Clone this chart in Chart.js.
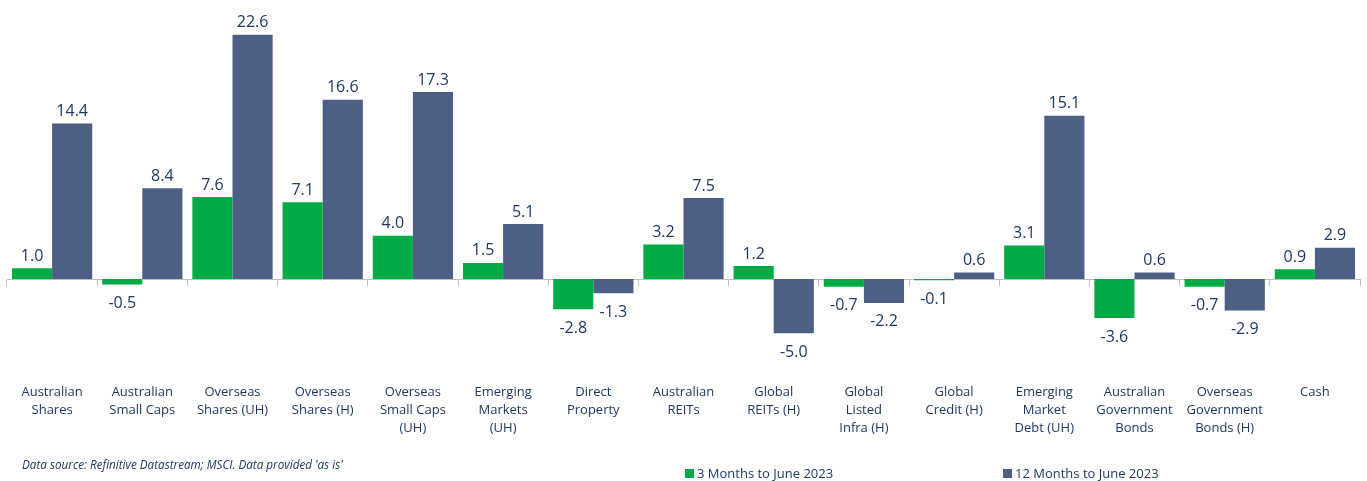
<!DOCTYPE html>
<html>
<head>
<meta charset="utf-8">
<script src="https://cdn.jsdelivr.net/npm/chart.js@4.4.1/dist/chart.umd.min.js"></script>
<style>
  html, body { margin: 0; padding: 0; background: #ffffff; }
  #wrap { position: relative; width: 1367px; height: 481px; overflow: hidden; }
  #c { position: absolute; left: 0; top: 0; }
  .note { position: absolute; left: 22px; top: 456px; font-family: "Open Sans", sans-serif; font-style: italic; font-size: 11.7px; color: #1F3864; white-space: nowrap; }
  .leg { position: absolute; top: 464px; font-family: "Open Sans", sans-serif; font-size: 13px; color: #1F3864; white-space: nowrap; line-height: 18px; }
  .leg span.box { display: inline-block; width: 9px; height: 9px; margin-right: 3px; vertical-align: 0px; }
</style>
</head>
<body>
<div id="wrap">
  <canvas id="c" width="1367" height="481"></canvas>
  <div class="note">Data source: Refinitive Datastream; MSCI. Data provided 'as is'</div>
  <div class="leg" style="left:685px"><span class="box" style="background:#00AA45"></span>3 Months to June 2023</div>
  <div class="leg" style="left:1003px"><span class="box" style="background:#4E5F86"></span>12 Months to June 2023</div>
</div>
<script>
const categories = [
  ["Australian", "Shares"],
  ["Australian", "Small Caps"],
  ["Overseas", "Shares (UH)"],
  ["Overseas", "Shares (H)"],
  ["Overseas", "Small Caps", "(UH)"],
  ["Emerging", "Markets", "(UH)"],
  ["Direct", "Property"],
  ["Australian", "REITs"],
  ["Global", "REITs (H)"],
  ["Global", "Listed", "Infra (H)"],
  ["Global", "Credit (H)"],
  ["Emerging", "Market", "Debt (UH)"],
  ["Australian", "Government", "Bonds"],
  ["Overseas", "Government", "Bonds (H)"],
  ["Cash"]
];
const seriesNames = ["3 Months to June 2023", "12 Months to June 2023"];
const threeMonths = [1.0, -0.5, 7.6, 7.1, 4.0, 1.5, -2.8, 3.2, 1.2, -0.7, -0.1, 3.1, -3.6, -0.7, 0.9];
const twelveMonths = [14.4, 8.4, 22.6, 16.6, 17.3, 5.1, -1.3, 7.5, -5.0, -2.2, 0.6, 15.1, 0.6, -2.9, 2.9];

const GREEN = "#00AA45";
const BLUE = "#4E5F86";
const TEXT = "#1F3864";

const valueLabels = {
  id: "valueLabels",
  afterDatasetsDraw(chart) {
    const ctx = chart.ctx;
    ctx.save();
    ctx.font = "16px 'Open Sans', sans-serif";
    ctx.fillStyle = TEXT;
    ctx.textAlign = "center";
    chart.data.datasets.forEach((ds, di) => {
      const meta = chart.getDatasetMeta(di);
      meta.data.forEach((el, i) => {
        const v = ds.data[i];
        const txt = v.toFixed(1);
        if (v >= 0) {
          ctx.textBaseline = "bottom";
          ctx.fillText(txt, el.x, el.y - 4);
        } else {
          ctx.textBaseline = "top";
          ctx.fillText(txt, el.x, el.y + 11);
        }
      });
    });
    ctx.restore();
  }
};

new Chart(document.getElementById("c"), {
  type: "bar",
  data: {
    labels: categories,
    datasets: [
      { label: seriesNames[0], data: threeMonths, backgroundColor: GREEN, barPercentage: 1.0, categoryPercentage: 0.89 },
      { label: seriesNames[1], data: twelveMonths, backgroundColor: BLUE, barPercentage: 1.0, categoryPercentage: 0.89 }
    ]
  },
  options: {
    responsive: false,
    animation: false,
    layout: { padding: { left: 7, right: 7, top: 11, bottom: 32 } },
    plugins: { legend: { display: false }, tooltip: { enabled: false } },
    scales: {
      x: {
        grid: { display: false, drawTicks: false, tickLength: 0 },
        border: { display: false },
        ticks: {
          autoSkip: false, maxRotation: 0, minRotation: 0, padding: 12,
          color: TEXT,
          font: { family: "'Open Sans', sans-serif", size: 13, lineHeight: 1.385 }
        }
      },
      xz: {
        type: "category",
        axis: "x",
        labels: categories,
        position: { y: 0 },
        offset: true,
        grid: { display: true, offset: true, drawOnChartArea: false, drawTicks: true, tickLength: 6, color: "#BFBFBF", lineWidth: 1 },
        border: { display: true, color: "#BFBFBF", width: 1 },
        ticks: { display: false }
      },
      y: {
        display: false,
        min: -8.5,
        max: 24.8
      }
    }
  },
  plugins: [valueLabels]
});
</script>
</body>
</html>
